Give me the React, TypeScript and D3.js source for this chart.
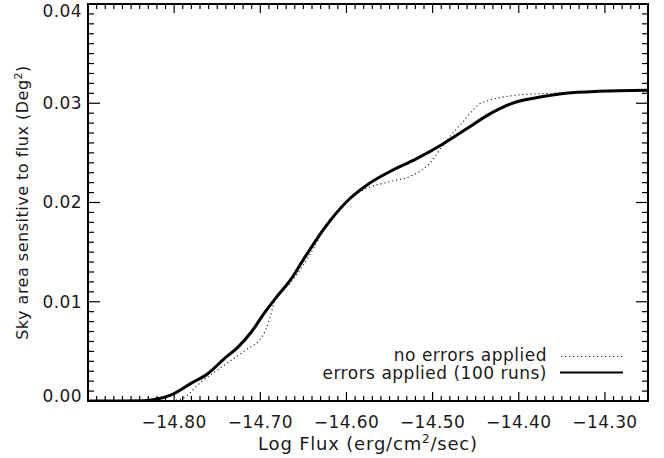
import * as d3 from 'd3';

// errors applied (100 runs) — solid
const errFlux = [-14.9, -14.86, -14.835, -14.82, -14.804, -14.781, -14.761, -14.742, -14.725, -14.71, -14.695, -14.68, -14.665, -14.65, -14.627, -14.596, -14.574, -14.55, -14.519, -14.488, -14.461, -14.434, -14.404, -14.377, -14.346, -14.308, -14.25];
const errArea = [0, 0, 0.00002, 0.0002, 0.0006, 0.00175, 0.00275, 0.00425, 0.0055, 0.007, 0.0089, 0.0106, 0.0122, 0.01425, 0.01725, 0.0204, 0.0219, 0.0231, 0.0244, 0.0259, 0.0274, 0.0289, 0.0301, 0.0306, 0.031, 0.0312, 0.0313];

// no errors applied — dotted
const noErrFlux = [-14.9, -14.83, -14.805, -14.792, -14.769, -14.742, -14.715, -14.7, -14.692, -14.683, -14.665, -14.642, -14.623, -14.6, -14.577, -14.55, -14.527, -14.504, -14.485, -14.465, -14.446, -14.434, -14.404, -14.365, -14.308, -14.25];
const noErrArea = [0, 0, 0.00003, 0.0002, 0.0019, 0.0036, 0.00525, 0.00625, 0.0075, 0.0101, 0.0119, 0.0148, 0.01775, 0.0201, 0.0214, 0.0221, 0.0226, 0.0239, 0.0261, 0.0281, 0.0299, 0.0303, 0.0308, 0.031, 0.0312, 0.0313];

const xMajor = [-14.8, -14.7, -14.6, -14.5, -14.4, -14.3];
const yMajor = [0, 0.01, 0.02, 0.03, 0.04];

const FONT = '"DejaVu Sans", sans-serif';
const INK = '#000';
const TEXT = '#1a1a1a';

const W = 664, H = 458;
const LEFT = 88, RIGHT = 648, TOP = 4, BOTTOM = 401;

const x = d3.scaleLinear().domain([-14.9, -14.25]).range([LEFT, RIGHT]);
const y = d3.scaleLinear().domain([0, 0.04]).range([BOTTOM, TOP]);

const line = (xs: number[], ys: number[]) =>
    d3.line<number>()
        .x(d => x(d))
        .y((_, i) => y(ys[i]))
        .curve(d3.curveMonotoneX)(xs) || '';

// inward ticks on all four sides; minor every 0.01 / 0.001
const xTicks = d3.range(1, 65).map(i => ({ v: -14.9 + i * 0.01, major: i % 10 === 0 }));
const yTicks = d3.range(1, 40).map(i => ({ v: i * 0.001, major: i % 10 === 0 }));

export default function App() {
    const fmt = d3.format('.2f');
    return (
        <svg width={W} height={H}
            style={{ position: 'absolute', left: 0, top: 0, background: '#fff', fontFamily: FONT }}>
            <defs>
                <clipPath id="plot-clip">
                    <rect x={LEFT} y={TOP - 2} width={RIGHT - LEFT} height={BOTTOM - TOP + 2} />
                </clipPath>
            </defs>

            {xTicks.map((t, i) => {
                const px = x(t.v);
                const len = t.major ? 9 : 5;
                return (
                    <g key={'x' + i}>
                        <rect x={px - 0.6} width={1.2} y={BOTTOM - len} height={len} fill={INK} />
                        <rect x={px - 0.6} width={1.2} y={TOP} height={len} fill={INK} />
                    </g>
                );
            })}
            {yTicks.map((t, i) => {
                const py = y(t.v);
                const len = t.major ? 12 : 6;
                return (
                    <g key={'y' + i}>
                        <rect x={LEFT} width={len} y={py - 0.6} height={1.2} fill={INK} />
                        <rect x={RIGHT - len} width={len} y={py - 0.6} height={1.2} fill={INK} />
                    </g>
                );
            })}
            <rect x={LEFT} y={TOP} width={RIGHT - LEFT} height={BOTTOM - TOP}
                fill="none" stroke={INK} strokeWidth={2} />

            {xMajor.map(v => (
                <text key={v} x={x(v)} y={428} textAnchor="middle"
                    style={{ fontSize: 17, letterSpacing: 0.4, fill: TEXT }}>
                    {fmt(v).replace('-', '\u2212')}
                </text>
            ))}
            {yMajor.map(v => (
                <text key={v} x={82} y={Math.min(401.7, Math.max(16.7, y(v) + 5.8))} textAnchor="end"
                    style={{ fontSize: 17, letterSpacing: 0.4, fill: TEXT }}>
                    {fmt(v)}
                </text>
            ))}

            <text x={(LEFT + RIGHT) / 2} y={450} textAnchor="middle"
                style={{ fontSize: 18, letterSpacing: 0.8, fill: TEXT }}>
                <tspan>Log Flux (erg/cm</tspan>
                <tspan dy={-7} style={{ fontSize: 12 }}>2</tspan>
                <tspan dy={7}>/sec)</tspan>
            </text>

            <text transform={`translate(28,${(TOP + BOTTOM) / 2}) rotate(-90)`} textAnchor="middle"
                style={{ fontSize: 16, letterSpacing: 0.5, fill: TEXT }}>
                <tspan>Sky area sensitive to flux (Deg</tspan>
                <tspan dy={-6} style={{ fontSize: 11 }}>2</tspan>
                <tspan dy={6}>)</tspan>
            </text>

            <g clipPath="url(#plot-clip)">
                <path d={line(noErrFlux, noErrArea)} fill="none" stroke="#222"
                    strokeWidth={1.1} strokeDasharray="1.2 2.8" />
                <path d={line(errFlux, errArea)} fill="none" stroke="#000" strokeWidth={3} />
            </g>

            <g style={{ fontSize: 17, letterSpacing: 0.5, fill: TEXT }}>
                <text x={547} y={361} textAnchor="end">no errors applied</text>
                <line x1={561} x2={623} y1={356.5} y2={356.5} stroke="#222"
                    strokeWidth={1.1} strokeDasharray="1.2 2.8" />
                <text x={547} y={379} textAnchor="end">errors applied (100 runs)</text>
                <line x1={560} x2={623} y1={372.5} y2={372.5} stroke="#000" strokeWidth={2} />
            </g>
        </svg>
    );
}
